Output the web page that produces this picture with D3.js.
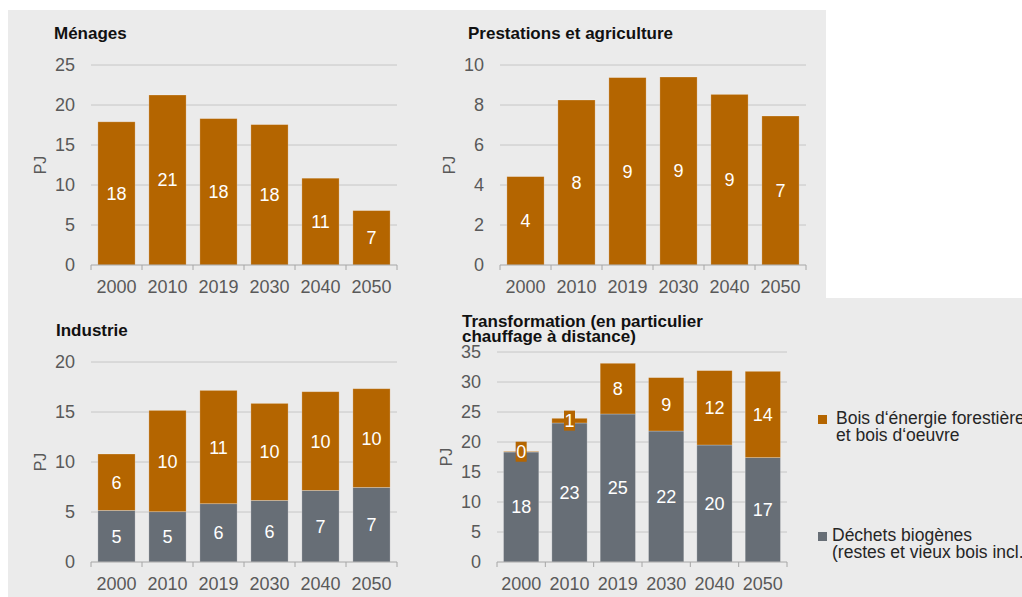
<!DOCTYPE html>
<html lang="fr"><head>
<meta charset="utf-8">
<title>Bois énergie par secteur</title>
<script src="https://cdn.jsdelivr.net/npm/d3@7"></script>
<style>
  body { margin: 0; background: #fff; }
  svg { display: block; font-family: "Liberation Sans", Arial, sans-serif; }
</style>
</head>
<body>
<script type="text/javascript">

var width = 1022;
var height = 597;

// data (PJ)
var years = ["2000", "2010", "2019", "2030", "2040", "2050"];

var menagesBois = [17.9, 21.25, 18.3, 17.55, 10.85, 6.8];
var prestationsBois = [4.42, 8.25, 9.37, 9.4, 8.53, 7.45];
var industrieDechets = [5.16, 5.03, 5.83, 6.16, 7.16, 7.46];
var industrieBois = [5.64, 10.13, 11.33, 9.7, 9.87, 9.87];
var transfoDechets = [18.33, 23.17, 24.67, 21.83, 19.5, 17.4];
var transfoBois = [0.1, 0.78, 8.45, 8.9, 12.4, 14.38];

var menagesTicks = [0, 5, 10, 15, 20, 25];
var prestationsTicks = [0, 2, 4, 6, 8, 10];
var industrieTicks = [0, 5, 10, 15, 20];
var transfoTicks = [0, 5, 10, 15, 20, 25, 30, 35];

var legendLabels = [
    ["Bois d\u2018énergie forestière", "et bois d\u2018oeuvre"],
    ["Déchets biogènes", "(restes et vieux bois incl."]
];

var orange = "#b46500";
var slate = "#676e76";
var panelBg = "#ebebeb";
var tickColor = "#595959";

var svg = d3.select("body").append("svg")
    .attr("width", width)
    .attr("height", height);

// grey backdrop: L shape, top right corner stays white
svg.append("rect")
    .attr("x", 8).attr("y", 10)
    .attr("width", width - 8).attr("height", height - 10)
    .attr("fill", panelBg);
svg.append("rect")
    .attr("x", 826).attr("y", 0)
    .attr("width", width - 826).attr("height", 298)
    .attr("fill", "#fff");

var panels = [
    { title: ["Ménages"], tx: 54, ty: 39, x0: 91, x1: 397, yTop: 65, yBot: 265,
      max: 25, ticks: menagesTicks, series: [{ values: menagesBois, color: orange }] },
    { title: ["Prestations et agriculture"], tx: 468, ty: 39, x0: 500, x1: 806, yTop: 65, yBot: 265,
      max: 10, ticks: prestationsTicks, series: [{ values: prestationsBois, color: orange }] },
    { title: ["Industrie"], tx: 56, ty: 336, x0: 91, x1: 397, yTop: 362, yBot: 562,
      max: 20, ticks: industrieTicks,
      series: [{ values: industrieDechets, color: slate }, { values: industrieBois, color: orange }] },
    { title: ["Transformation (en particulier", "chauffage à distance)"], tx: 462, ty: 327, x0: 497, x1: 787, yTop: 352, yBot: 562,
      max: 35, ticks: transfoTicks,
      series: [{ values: transfoDechets, color: slate }, { values: transfoBois, color: orange }] }
];

panels.forEach(function(p) {
    var g = svg.append("g");

    var x = d3.scaleBand()
        .domain(years)
        .range([p.x0, p.x1])
        .paddingInner(0.27)
        .paddingOuter(0.135);
    var y = d3.scaleLinear()
        .domain([0, p.max])
        .range([p.yBot, p.yTop]);

    // gridlines
    g.selectAll(".grid")
        .data(p.ticks.filter(function(t) { return t > 0; }))
        .enter().append("line")
        .attr("x1", p.x0).attr("x2", p.x1)
        .attr("y1", function(d) { return y(d); })
        .attr("y2", function(d) { return y(d); })
        .attr("stroke", "#c6c6c6")
        .attr("stroke-width", 1);

    // y tick labels
    g.selectAll(".ylab")
        .data(p.ticks)
        .enter().append("text")
        .attr("x", p.x0 - 16)
        .attr("y", function(d) { return y(d); })
        .attr("dy", "0.36em")
        .attr("text-anchor", "end")
        .attr("font-size", 18)
        .attr("fill", tickColor)
        .text(function(d) { return d; });

    // PJ
    g.append("text")
        .attr("transform", "translate(" + (p.x0 - 45) + "," + ((p.yTop + p.yBot) / 2) + ") rotate(-90)")
        .attr("text-anchor", "middle")
        .attr("font-size", 16)
        .attr("fill", tickColor)
        .text("PJ");

    // title
    g.append("text")
        .attr("x", p.tx)
        .attr("y", p.ty)
        .attr("font-size", 17)
        .attr("font-weight", "bold")
        .attr("fill", "#111")
        .selectAll("tspan")
        .data(p.title)
        .enter().append("tspan")
        .attr("x", p.tx)
        .attr("dy", function(d, i) { return i === 0 ? 0 : 15; })
        .text(function(d) { return d; });

    // stacked bars
    var base = years.map(function() { return 0; });
    p.series.forEach(function(s) {
        var segs = years.map(function(yr, i) {
            return { year: yr, y0: base[i], y1: base[i] + s.values[i], v: s.values[i] };
        });
        base = segs.map(function(d) { return d.y1; });

        g.selectAll(null)
            .data(segs)
            .enter().append("rect")
            .attr("x", function(d) { return x(d.year); })
            .attr("width", x.bandwidth())
            .attr("y", function(d) { return y(d.y1); })
            .attr("height", function(d) { return y(d.y0) - y(d.y1); })
            .attr("fill", s.color)
            .attr("stroke", "rgba(255,255,255,0.3)")
            .attr("stroke-width", 0.8);

        var labels = g.selectAll(null)
            .data(segs)
            .enter().append("g")
            .attr("transform", function(d) {
                return "translate(" + (x(d.year) + x.bandwidth() / 2) + "," + ((y(d.y0) + y(d.y1)) / 2) + ")";
            });

        // small segments get a filled label box, like the original
        labels.filter(function(d) { return y(d.y0) - y(d.y1) < 20; })
            .append("rect")
            .attr("x", -5.5).attr("y", -10)
            .attr("width", 11).attr("height", 20)
            .attr("fill", s.color);

        labels.append("text")
            .attr("text-anchor", "middle")
            .attr("dy", "0.36em")
            .attr("font-size", 18)
            .attr("fill", "#fff")
            .text(function(d) { return Math.round(d.v); });
    });

    // x axis
    g.append("line")
        .attr("x1", p.x0).attr("x2", p.x1)
        .attr("y1", p.yBot).attr("y2", p.yBot)
        .attr("stroke", "#a6a6a6");
    var edges = years.map(function(yr) { return x(yr) - x.step() * x.paddingInner() / 2; });
    edges.push(p.x1);
    g.selectAll(".xt")
        .data(edges)
        .enter().append("line")
        .attr("x1", function(d) { return d; })
        .attr("x2", function(d) { return d; })
        .attr("y1", p.yBot).attr("y2", p.yBot + 5)
        .attr("stroke", "#a6a6a6");
    g.selectAll(".xlab")
        .data(years)
        .enter().append("text")
        .attr("x", function(d) { return x(d) + x.bandwidth() / 2; })
        .attr("y", p.yBot + 28)
        .attr("text-anchor", "middle")
        .attr("font-size", 18)
        .attr("fill", tickColor)
        .text(function(d) { return d; });
});

// legend
var legendItems = [
    { color: orange, lines: legendLabels[0], y: 415, tx: 836 },
    { color: slate, lines: legendLabels[1], y: 532, tx: 832 }
];
legendItems.forEach(function(l) {
    svg.append("rect")
        .attr("x", 818).attr("y", l.y)
        .attr("width", 9).attr("height", 9)
        .attr("fill", l.color);
    svg.append("text")
        .attr("font-size", 17.5)
        .attr("fill", "#262626")
        .selectAll("tspan")
        .data(l.lines)
        .enter().append("tspan")
        .attr("x", l.tx)
        .attr("y", function(d, i) { return l.y + 9 + i * 17; })
        .text(function(d) { return d; });
});

</script>
</body></html>
